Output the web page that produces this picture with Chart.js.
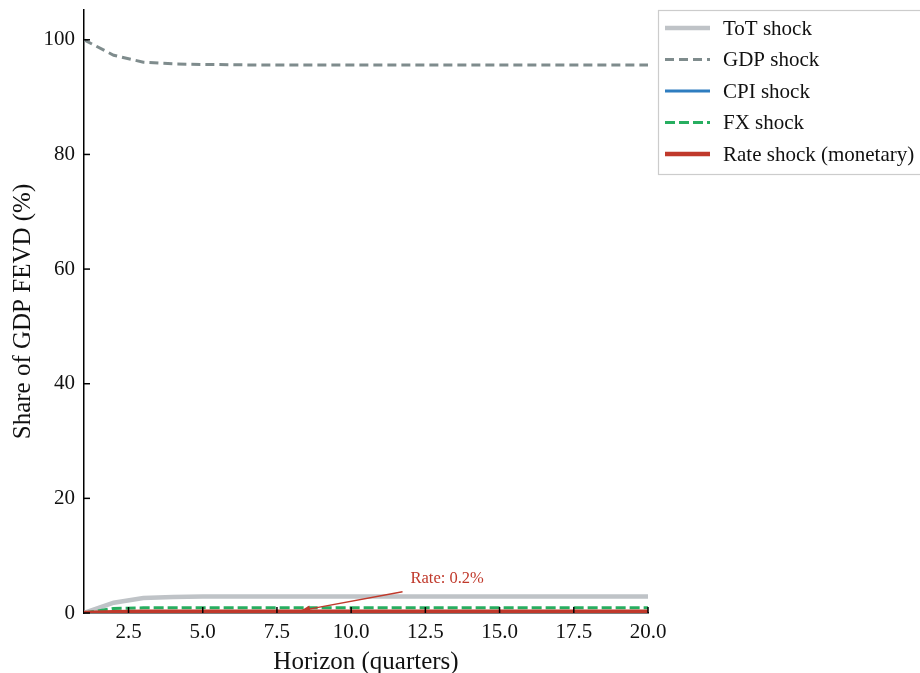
<!DOCTYPE html>
<html>
<head>
<meta charset="utf-8">
<script src="https://cdn.jsdelivr.net/npm/chart.js@4/dist/chart.umd.min.js"></script>
<style>
  html, body { margin: 0; padding: 0; background: #fff; }
  #wrap { width: 920px; height: 673px; }
</style>
</head>
<body>
<div id="wrap"><canvas id="canvas" width="920" height="673"></canvas></div>
<script>
// horizon in quarters
const horizons = [1, 2, 3, 4, 5, 6, 7, 8, 9, 10, 11, 12, 13, 14, 15, 16, 17, 18, 19, 20];

// share of GDP forecast error variance, %
const totShare  = [0, 1.8, 2.6, 2.8, 2.9, 2.9, 2.9, 2.9, 2.9, 2.9, 2.9, 2.9, 2.9, 2.9, 2.9, 2.9, 2.9, 2.9, 2.9, 2.9];
const gdpShare  = [100, 97.3, 96.1, 95.8, 95.7, 95.65, 95.6, 95.6, 95.6, 95.6, 95.6, 95.6, 95.6, 95.6, 95.6, 95.6, 95.6, 95.6, 95.6, 95.6];
const cpiShare  = [0, 0.1, 0.1, 0.1, 0.1, 0.1, 0.1, 0.1, 0.1, 0.1, 0.1, 0.1, 0.1, 0.1, 0.1, 0.1, 0.1, 0.1, 0.1, 0.1];
const fxShare   = [0, 0.8, 0.9, 0.9, 0.9, 0.9, 0.9, 0.9, 0.9, 0.9, 0.9, 0.9, 0.9, 0.9, 0.9, 0.9, 0.9, 0.9, 0.9, 0.9];
const rateShare = [0, 0.15, 0.2, 0.2, 0.2, 0.2, 0.2, 0.2, 0.2, 0.2, 0.2, 0.2, 0.2, 0.2, 0.2, 0.2, 0.2, 0.2, 0.2, 0.2];

const seriesLabels = ['ToT shock', 'GDP shock', 'CPI shock', 'FX shock', 'Rate shock (monetary)'];

const xTicks = [2.5, 5.0, 7.5, 10.0, 12.5, 15.0, 17.5, 20.0];
const yTicks = [0, 20, 40, 60, 80, 100];

// annotation
const noteText = 'Rate: 0.2%';
const notePoint = [8.3, 0.4];
const noteTextPos = [12.0, 5.8];

const serif = '"Liberation Serif", "DejaVu Serif", serif';

function pts(vals) {
    return horizons.map((h, i) => ({ x: h, y: vals[i] }));
}

const data = {
    datasets: [
        { label: seriesLabels[0], data: pts(totShare), borderColor: '#bfc3c7', borderWidth: 4.5, order: 4 },
        { label: seriesLabels[1], data: pts(gdpShare), borderColor: '#7f8c8d', borderWidth: 3, borderDash: [9, 5], order: 3 },
        { label: seriesLabels[2], data: pts(cpiShare), borderColor: '#2e7dc0', borderWidth: 3, order: 2 },
        { label: seriesLabels[3], data: pts(fxShare), borderColor: '#27ae60', borderWidth: 3, borderDash: [10, 4], order: 1 },
        { label: seriesLabels[4], data: pts(rateShare), borderColor: '#c0392b', borderWidth: 4.5, order: 0 }
    ]
};

const decor = {
    id: 'decor',
    afterDraw(chart) {
        const ctx = chart.ctx;
        const area = chart.chartArea;
        const xs = chart.scales.x;
        const ys = chart.scales.y;
        ctx.save();
        // inward ticks
        ctx.strokeStyle = '#000';
        ctx.lineWidth = 1.5;
        yTicks.forEach(v => {
            const py = ys.getPixelForValue(v);
            ctx.beginPath(); ctx.moveTo(area.left, py); ctx.lineTo(area.left + 6, py); ctx.stroke();
        });
        xTicks.forEach(v => {
            const px = xs.getPixelForValue(v);
            ctx.beginPath(); ctx.moveTo(px, area.bottom); ctx.lineTo(px, area.bottom - 6); ctx.stroke();
        });

        // annotation arrow
        const tx = xs.getPixelForValue(noteTextPos[0]);
        const ty = ys.getPixelForValue(noteTextPos[1]);
        const ax = xs.getPixelForValue(notePoint[0]);
        const ay = ys.getPixelForValue(notePoint[1]);
        const sx = tx - 8, sy = ty + 12;
        ctx.strokeStyle = '#c0392b';
        ctx.fillStyle = '#c0392b';
        ctx.lineWidth = 1.3;
        ctx.beginPath(); ctx.moveTo(sx, sy); ctx.lineTo(ax, ay); ctx.stroke();
        const ang = Math.atan2(ay - sy, ax - sx);
        ctx.beginPath();
        ctx.moveTo(ax, ay);
        ctx.lineTo(ax - 10 * Math.cos(ang - 0.35), ay - 10 * Math.sin(ang - 0.35));
        ctx.lineTo(ax - 10 * Math.cos(ang + 0.35), ay - 10 * Math.sin(ang + 0.35));
        ctx.closePath(); ctx.fill();
        ctx.font = '16.5px ' + serif;
        ctx.textAlign = 'left';
        ctx.textBaseline = 'bottom';
        ctx.fillText(noteText, tx, ty + 7);

        // legend box
        const lx = 658, ly = 10, lw = 270, lh = 164;
        ctx.fillStyle = '#fff';
        ctx.fillRect(lx, ly, lw, lh);
        ctx.strokeStyle = '#cccccc';
        ctx.lineWidth = 1.2;
        ctx.strokeRect(lx + 0.5, ly + 0.5, lw, lh);
        ctx.font = '21px ' + serif;
        ctx.textBaseline = 'middle';
        chart.data.datasets.forEach((ds, i) => {
            const rowY = 28 + i * 31.5;
            ctx.strokeStyle = ds.borderColor;
            ctx.lineWidth = ds.borderWidth;
            ctx.setLineDash(ds.borderDash || []);
            ctx.beginPath(); ctx.moveTo(665, rowY); ctx.lineTo(710, rowY); ctx.stroke();
            ctx.setLineDash([]);
            ctx.fillStyle = '#111';
            ctx.fillText(ds.label, 723, rowY + 1);
        });
        ctx.restore();
    }
};

const config = {
    type: 'line',
    data: data,
    options: {
        responsive: false,
        animation: false,
        layout: { padding: { top: 10, right: 272, left: 8, bottom: 0 } },
        elements: { point: { radius: 0 }, line: { tension: 0, fill: false } },
        plugins: { legend: { display: false }, tooltip: { enabled: false } },
        scales: {
            x: {
                type: 'linear',
                min: 1,
                max: 20,
                afterBuildTicks: (s) => { s.ticks = xTicks.map(v => ({ value: v })); },
                afterFit: (s) => { s.height = 60; s.paddingLeft = 0; s.paddingRight = 0; },
                grid: { display: false, drawTicks: false },
                border: { display: true, color: '#000', width: 1.5 },
                ticks: {
                    padding: 7,
                    color: '#111',
                    font: { family: serif, size: 21 },
                    maxRotation: 0,
                    callback: (v) => Number(v).toFixed(1)
                },
                title: {
                    display: true,
                    text: 'Horizon (quarters)',
                    color: '#111',
                    font: { family: serif, size: 25 },
                    padding: { top: 0, bottom: -4 }
                }
            },
            y: {
                min: 0,
                max: 105.2,
                afterBuildTicks: (s) => { s.ticks = yTicks.map(v => ({ value: v })); },
                afterFit: (s) => { s.width = 76; s.paddingTop = 0; s.paddingBottom = 0; },
                grid: { display: false, drawTicks: false },
                border: { display: true, color: '#000', width: 1.5 },
                ticks: {
                    padding: 9,
                    color: '#111',
                    font: { family: serif, size: 21 },
                    callback: (v) => String(v)
                },
                title: {
                    display: true,
                    text: 'Share of GDP FEVD (%)',
                    color: '#111',
                    font: { family: serif, size: 25 },
                    padding: { top: 0, bottom: 0 }
                }
            }
        }
    },
    plugins: [decor]
};

const canvas = document.getElementById('canvas');
const chart = new Chart(canvas, config);
</script>
</body>
</html>
